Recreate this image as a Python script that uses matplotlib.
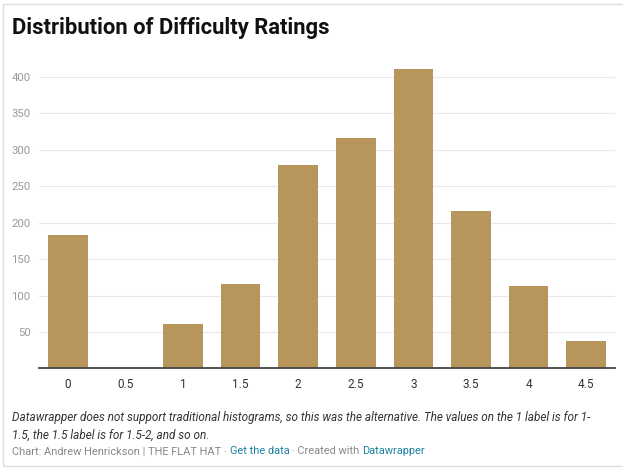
import matplotlib
matplotlib.use("Agg")
import matplotlib.pyplot as plt
from matplotlib.patches import Rectangle

categories = ["0", "0.5", "1", "1.5", "2", "2.5", "3", "3.5", "4", "4.5"]
counts = [183, 0, 61, 116, 279, 316, 411, 216, 113, 38]
yticks = [50, 100, 150, 200, 250, 300, 350, 400]

plt.rcParams['font.family'] = ['Roboto', 'DejaVu Sans']

W, H = 623, 474
fig = plt.figure(figsize=(W / 100, H / 100), dpi=100)
fig.patch.set_facecolor('white')

# frame border
fig.add_artist(Rectangle((3 / W, 1 - 466 / H), 1.2, (466 - 4) / H,
                         transform=fig.transFigure, fill=False,
                         edgecolor='#dddddd', linewidth=1))

ax = fig.add_axes([39 / W, 1 - 368.4 / H, (615 - 39) / W, (368.4 - 62.4) / H])
x = list(range(len(categories)))
ax.bar(x, counts, width=0.69, color='#b8955a', zorder=2)
ax.set_xlim(-0.5, len(categories) - 0.5)
ax.set_ylim(0, 420)
ax.set_yticks(yticks)
ax.set_yticklabels([str(v) for v in yticks], color='#999999', fontsize=8.2)
ax.set_xticks(x)
ax.set_xticklabels(categories, color='#333333', fontsize=8.5)
ax.tick_params(axis='both', length=0)
ax.tick_params(axis='y', pad=6)
ax.tick_params(axis='x', pad=7)
for s in ['top', 'right', 'left']:
    ax.spines[s].set_visible(False)
ax.spines['bottom'].set_color('#444444')
ax.spines['bottom'].set_linewidth(1.3)
ax.spines['bottom'].set_zorder(3)
ax.grid(axis='y', color='#e8e8e8', linewidth=0.8, zorder=0)
ax.set_axisbelow(True)

fig.text(12 / W, 1 - 28 / H, "Distribution of Difficulty Ratings",
         fontsize=15.8, fontweight='bold', color='#111111', va='center', ha='left')

fig.text(12 / W, 1 - 418 / H,
         "Datawrapper does not support traditional histograms, so this was the alternative. "
         "The values on the 1 label is for 1-",
         fontsize=8.45, style='italic', color='#333333', va='center', ha='left')
fig.text(12 / W, 1 - 435 / H, "1.5, the 1.5 label is for 1.5-2, and so on.",
         fontsize=8.45, style='italic', color='#333333', va='center', ha='left')

parts = [("Chart: Andrew Henrickson | THE FLAT HAT · ", '#888888'),
         ("Get the data", '#1d81a2'),
         (" · Created with ", '#888888'),
         ("Datawrapper", '#1d81a2')]
prev = fig.text(12 / W, 1 - 451 / H, parts[0][0], fontsize=7.95, color=parts[0][1],
                va='center', ha='left')
for txt, col in parts[1:]:
    prev = ax.annotate(txt, xy=(1, 0.5), xycoords=prev, va='center', ha='left',
                       fontsize=7.95, color=col, annotation_clip=False)

fig.savefig("out.png", dpi=100)
